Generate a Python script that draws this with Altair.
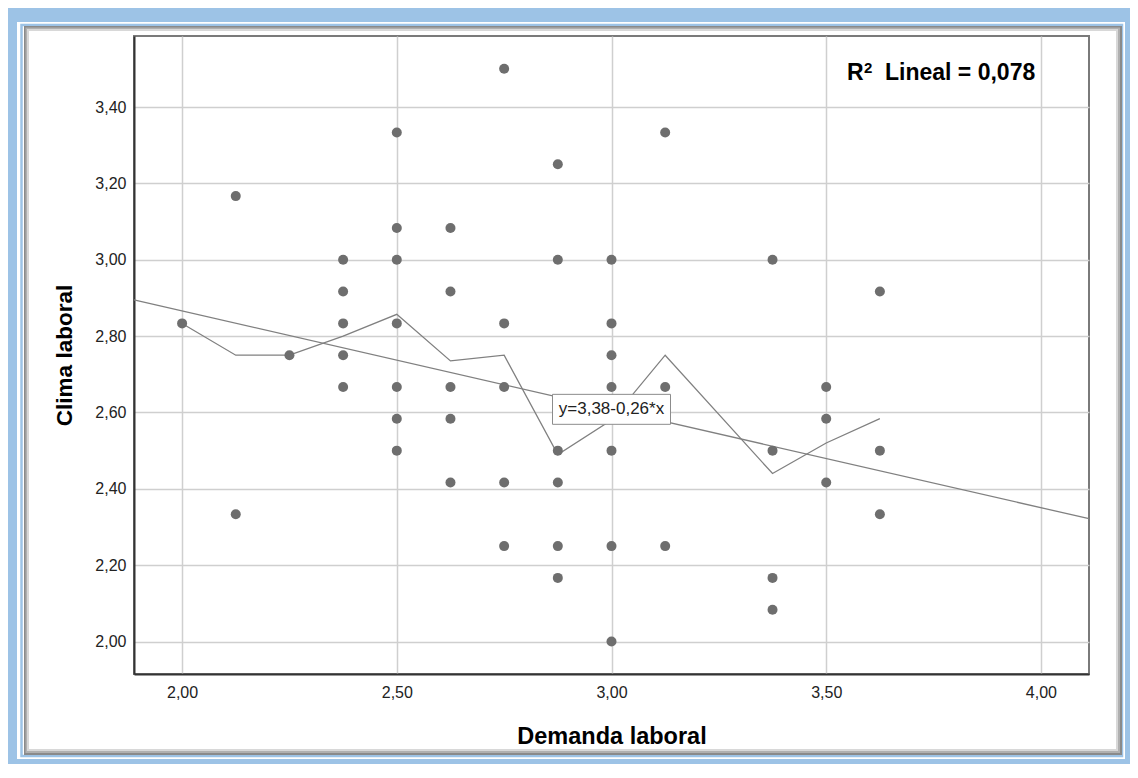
import altair as alt
import pandas as pd

# ---- data ----
pts_x = [2.0,
         2.125, 2.125,
         2.25,
         2.375, 2.375, 2.375, 2.375, 2.375,
         2.5, 2.5, 2.5, 2.5, 2.5, 2.5, 2.5,
         2.625, 2.625, 2.625, 2.625, 2.625,
         2.75, 2.75, 2.75, 2.75, 2.75,
         2.875, 2.875, 2.875, 2.875, 2.875, 2.875,
         3.0, 3.0, 3.0, 3.0, 3.0, 3.0, 3.0,
         3.125, 3.125, 3.125,
         3.375, 3.375, 3.375, 3.375,
         3.5, 3.5, 3.5,
         3.625, 3.625, 3.625]
pts_y = [2.8333,
         3.1667, 2.3333,
         2.75,
         3.0, 2.9167, 2.8333, 2.75, 2.6667,
         3.3333, 3.0833, 3.0, 2.8333, 2.6667, 2.5833, 2.5,
         3.0833, 2.9167, 2.6667, 2.5833, 2.4167,
         3.5, 2.8333, 2.6667, 2.4167, 2.25,
         3.25, 3.0, 2.5, 2.4167, 2.25, 2.1667,
         3.0, 2.8333, 2.75, 2.6667, 2.5, 2.25, 2.0,
         3.3333, 2.6667, 2.25,
         3.0, 2.5, 2.1667, 2.0833,
         2.6667, 2.5833, 2.4167,
         2.9167, 2.5, 2.3333]

line_x = [2.0, 2.125, 2.25, 2.375, 2.5, 2.625, 2.75, 2.875, 3.0, 3.125, 3.375, 3.5, 3.625]
line_y = [2.833, 2.75, 2.75, 2.80, 2.857, 2.735, 2.75, 2.49, 2.58, 2.75, 2.44, 2.52, 2.584]

reg_intercept = 3.381
reg_slope = -0.2576

x_ticks = [2.0, 2.5, 3.0, 3.5, 4.0]
y_ticks = [2.0, 2.2, 2.4, 2.6, 2.8, 3.0, 3.2, 3.4]
x_domain = [1.888, 4.112]
y_domain = [1.915, 3.586]

eq_label = "y=3,38-0,26*x"
eq_at_x = 3.0
r2_parts = ["R", "2", "Lineal = 0,078"]
x_title = "Demanda laboral"
y_title = "Clima laboral"

FONT = "Liberation Sans"
W, H = 955, 638

pts_df = pd.DataFrame({"x": pts_x, "y": pts_y})
line_df = pd.DataFrame({"x": line_x, "y": line_y})
reg_df = pd.DataFrame({"x": x_domain,
                       "y": [reg_intercept + reg_slope * v for v in x_domain]})
eq_df = pd.DataFrame({"x": [eq_at_x], "y": [reg_intercept + reg_slope * eq_at_x],
                      "t": [eq_label]})
one = pd.DataFrame({"k": [0]})

lab = "replace(format(datum.value, '.2f'), '.', ',')"
xs = alt.Scale(domain=x_domain, nice=False, zero=False)
ys = alt.Scale(domain=y_domain, nice=False, zero=False)

x_axis = alt.Axis(values=x_ticks, labelExpr=lab, title=x_title, grid=True,
                  ticks=False, labelPadding=10, titleX=W / 2, titleY=69,
                  titleFontSize=23.5,
                  titleBaseline="alphabetic", titleAlign="center")
y_axis = alt.Axis(values=y_ticks, labelExpr=lab, title=y_title, grid=True,
                  ticks=False, labelPadding=8, titleX=-63, titleY=H / 2,
                  titleFontSize=22.5,
                  titleAngle=270, titleBaseline="alphabetic", titleAlign="center")

# decorative frame (pixel offsets relative to the plot area)
frames = [
    # (x, x2, y, y2, color, width)
    (-124, 998, -21, 730, "#9dc3e6", 14),
    (-112.5, 988, -11, 720, "#9dc3e6", 2.5),
    (-109, 987, -9, 718, "#8a8a8a", 2),
    (-107.5, 985, -7.5, 716, "#b0b0b0", 2),
    (-106, 983, -6, 714, "#d8d8d8", 2),
]
frame_layers = [
    alt.Chart(one).mark_rect(fillOpacity=0, stroke=c, strokeWidth=sw).encode(
        x=alt.value(x1), x2=alt.value(x2), y=alt.value(y1), y2=alt.value(y2))
    for (x1, x2, y1, y2, c, sw) in frames
]

reg = alt.Chart(reg_df).mark_line(color="#808080", strokeWidth=1.3).encode(
    x=alt.X("x:Q", scale=xs, axis=x_axis),
    y=alt.Y("y:Q", scale=ys, axis=y_axis))
mean_line = alt.Chart(line_df).mark_line(color="#808080", strokeWidth=1.3).encode(
    x=alt.X("x:Q", scale=xs), y=alt.Y("y:Q", scale=ys))
points = alt.Chart(pts_df).mark_circle(size=100, color="#6e6e6e", opacity=1).encode(
    x=alt.X("x:Q", scale=xs), y=alt.Y("y:Q", scale=ys))

box_path = "M-1,-0.254L1,-0.254L1,0.254L-1,0.254Z"
eq_box = alt.Chart(eq_df).mark_point(shape=box_path, size=118 * 118, filled=True,
                                     fill="white", fillOpacity=1, stroke="#8c8c8c",
                                     strokeWidth=1, opacity=1).encode(
    x=alt.X("x:Q", scale=xs), y=alt.Y("y:Q", scale=ys))
eq_text = alt.Chart(eq_df).mark_text(font=FONT, fontSize=17, color="#222222",
                                     align="center", baseline="middle").encode(
    x=alt.X("x:Q", scale=xs), y=alt.Y("y:Q", scale=ys), text="t:N")

# R² annotation: "R", superscript "2", rest
r2_specs = [(r2_parts[0], 713, 44, 23), (r2_parts[1], 730, 37, 15), (r2_parts[2], 751, 44, 23)]
r2_layers = [
    alt.Chart(one).mark_text(font=FONT, fontSize=fs, fontWeight="bold", color="#000000",
                             align="left", baseline="alphabetic", text=t).encode(
        x=alt.value(px), y=alt.value(py))
    for (t, px, py, fs) in r2_specs
]

chart = alt.layer(*frame_layers, reg, mean_line, points, eq_box, eq_text, *r2_layers).properties(
    width=W, height=H,
    autosize=alt.AutoSizeParams(type="none"),
    padding={"left": 126, "top": 28, "right": 41, "bottom": 90},
    background="white",
).configure_view(
    stroke="#7a7a7a", strokeWidth=2
).configure_axis(
    gridColor="#cfcfcf", gridWidth=1.5,
    domainColor="#333333", domainWidth=2,
    labelFont=FONT, labelFontSize=16, labelColor="#222222",
    titleFont=FONT, titleFontWeight="bold", titleColor="#000000",
)

chart.save("out.html", embed_options={"renderer": "svg", "actions": False})
